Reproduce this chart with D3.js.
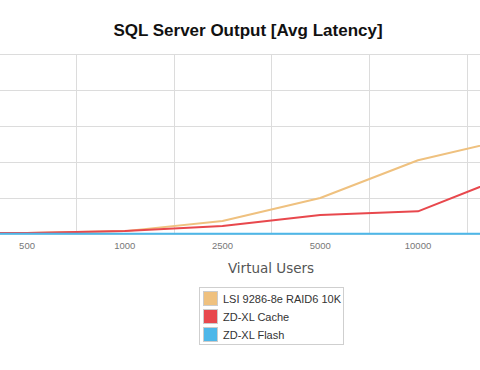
<!DOCTYPE html>
<html>
<head>
<meta charset="utf-8">
<script src="https://cdn.jsdelivr.net/npm/d3@7"></script>
<style>
  html, body { margin: 0; padding: 0; background: #fff; }
  svg { display: block; }
</style>
</head>
<body>
<svg id="chart" width="480" height="370"></svg>
<script>
// DATA (chart is cropped at both sides: first and last categories fall outside the view)
const users = ["250", "500", "1000", "2500", "5000", "10000", "20000"];
const shownUsers = ["500", "1000", "2500", "5000", "10000"];
const seriesNames = ["LSI 9286-8e RAID6 10K", "ZD-XL Cache", "ZD-XL Flash"];
const lsiLatency = [1, 3, 8, 36, 100, 205, 268];
const cacheLatency = [1, 3, 8, 22, 53, 63, 170];
const flashLatency = [0.4, 0.4, 0.4, 0.4, 0.4, 0.4, 0.4];
const yTicks = [0, 100, 200, 300, 400, 500];

const colors = ["#efc17f", "#e8484d", "#4db7e9"];

const svg = d3.select("#chart");

// scales
const x = d3.scaleBand().domain(users).range([-119.6, 564.6]);
const y = d3.scaleLinear().domain([0, 500]).range([234, 54]);

// title
svg.append("text")
  .attr("x", 248)
  .attr("y", 36)
  .attr("text-anchor", "middle")
  .attr("font-family", "'Liberation Sans', Arial, sans-serif")
  .attr("font-weight", "bold")
  .attr("font-size", "17px")
  .attr("fill", "#111")
  .text("SQL Server Output [Avg Latency]");

// grid
const grid = svg.append("g");
grid.selectAll("line.h")
  .data(yTicks)
  .enter()
  .append("line")
  .attr("x1", 0)
  .attr("x2", 480)
  .attr("y1", (d) => Math.round(y(d)) + 0.5)
  .attr("y2", (d) => Math.round(y(d)) + 0.5)
  .attr("stroke", "#dcdcdc")
  .attr("stroke-width", 1);

grid.selectAll("line.v")
  .data(users.slice(1))
  .enter()
  .append("line")
  .attr("x1", (d) => Math.round(x(d)) + 0.5)
  .attr("x2", (d) => Math.round(x(d)) + 0.5)
  .attr("y1", y(500))
  .attr("y2", y(0))
  .attr("stroke", "#dcdcdc")
  .attr("stroke-width", 1);

// x axis labels (only those inside the visible area)
const xAxis = d3.axisBottom(x).tickValues(shownUsers).tickSize(0).tickPadding(8);
const gx = svg.append("g")
  .attr("transform", `translate(0, ${y(0)})`)
  .call(xAxis);
gx.select(".domain").remove();
gx.selectAll("text")
  .attr("font-family", "'Liberation Sans', Arial, sans-serif")
  .attr("font-size", "9.5px")
  .attr("fill", "#777");

svg.append("text")
  .attr("x", 271)
  .attr("y", 273)
  .attr("text-anchor", "middle")
  .attr("font-family", "'DejaVu Sans', sans-serif")
  .attr("font-size", "13.5px")
  .attr("fill", "#555")
  .text("Virtual Users");

// lines
const line = d3.line()
  .x((d, i) => x(users[i]) + x.bandwidth() / 2)
  .y((d) => y(d));

[lsiLatency, cacheLatency, flashLatency].forEach((vals, k) => {
  svg.append("path")
    .datum(vals)
    .attr("d", line)
    .attr("fill", "none")
    .attr("stroke", colors[k])
    .attr("stroke-width", 2)
    .attr("stroke-linejoin", "round");
});

// legend
const legend = svg.append("g").attr("transform", "translate(199.5, 287.5)");
legend.append("rect")
  .attr("width", 144)
  .attr("height", 57)
  .attr("fill", "#fff")
  .attr("stroke", "#cfcfcf");

seriesNames.forEach((name, i) => {
  const row = legend.append("g").attr("transform", `translate(4, ${4 + i * 18})`);
  row.append("rect")
    .attr("width", 14)
    .attr("height", 14)
    .attr("fill", colors[i])
    .attr("stroke", "#cccccc")
    .attr("stroke-width", 1);
  row.append("text")
    .attr("x", 19.5)
    .attr("y", 11)
    .attr("font-family", "'Liberation Sans', Arial, sans-serif")
    .attr("font-size", "11px")
    .attr("fill", "#333")
    .text(name);
});
</script>
</body>
</html>
